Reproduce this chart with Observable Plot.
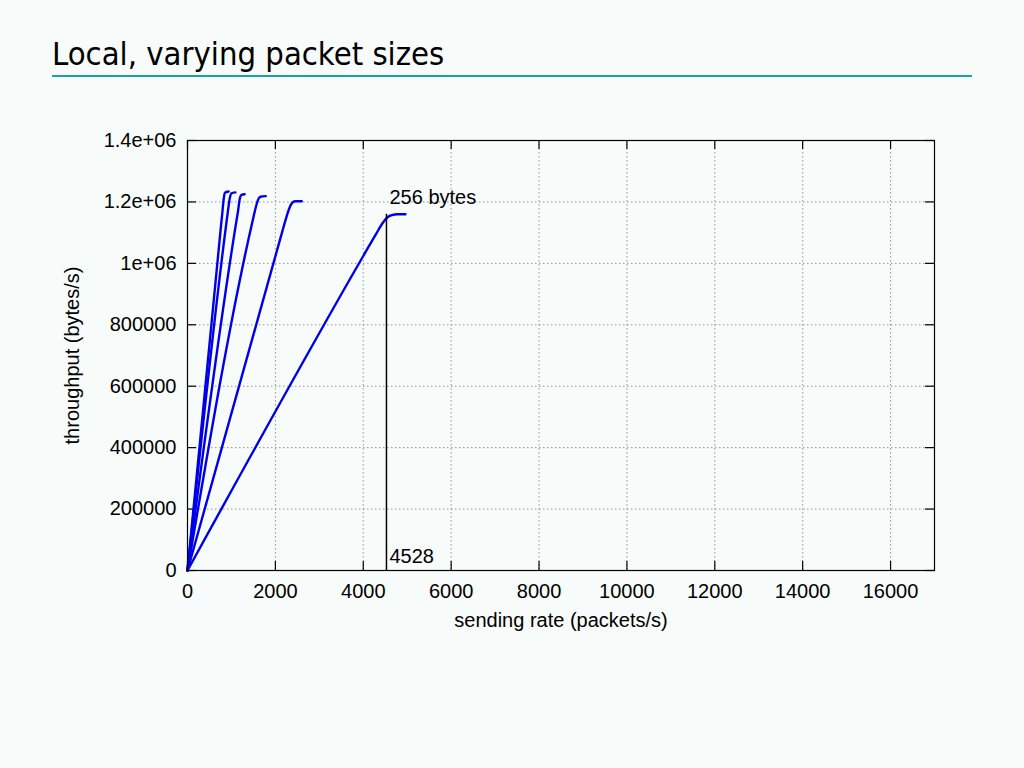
<!DOCTYPE html>
<html>
<head>
<meta charset="utf-8">
<script src="https://cdn.jsdelivr.net/npm/d3@7"></script>
<script src="https://cdn.jsdelivr.net/npm/@observablehq/plot@0.6"></script>
<style>
  html, body { margin: 0; padding: 0; background: #f7fbf9; width: 1024px; height: 768px; overflow: hidden; }
  #title { position: absolute; left: 52px; top: 38px; font-family: "DejaVu Sans Condensed", "DejaVu Sans", sans-serif; font-stretch: condensed; font-size: 32.5px; color: #000; line-height: 1; white-space: nowrap; }
  #rule { position: absolute; left: 52px; top: 75px; width: 920px; height: 2px; background: #1f9fae; }
  #chart { position: absolute; left: 0; top: 0; }
</style>
</head>
<body>
<div id="title">Local, varying packet sizes</div>
<div id="rule"></div>
<div id="chart"></div>
<script>
// ---- data ----
const xLabel = "sending rate (packets/s)";
const yLabel = "throughput (bytes/s)";
const xTicks = [0, 2000, 4000, 6000, 8000, 10000, 12000, 14000, 16000];
const yTicks = [0, 200000, 400000, 600000, 800000, 1000000, 1200000, 1400000];
const yTickLabels = ["0", "200000", "400000", "600000", "800000", "1e+06", "1.2e+06", "1.4e+06"];

const packetSizes = [256, 512, 768, 1024, 1280, 1472];
const rate256  = [0, 4000, 4300, 4450, 4550, 4650, 4780, 4960];
const tput256  = [0, 1024000, 1098000, 1133000, 1150000, 1157000, 1160000, 1160000];
const rate512  = [0, 2150, 2250, 2320, 2390, 2460, 2600];
const tput512  = [0, 1100000, 1150000, 1180000, 1198000, 1202000, 1202000];
const rate768  = [0, 1480, 1550, 1600, 1660, 1780];
const tput768  = [0, 1137000, 1180000, 1205000, 1217000, 1219000];
const rate1024 = [0, 1100, 1150, 1190, 1230, 1300];
const tput1024 = [0, 1126000, 1170000, 1210000, 1223000, 1225000];
const rate1280 = [0, 880, 920, 960, 1000, 1090];
const tput1280 = [0, 1126000, 1170000, 1210000, 1228000, 1231000];
const rate1472 = [0, 760, 790, 820, 850, 935];
const tput1472 = [0, 1119000, 1160000, 1205000, 1230000, 1234000];

const markerRate = 4528;
const markerTput = 1160000;
const markerLabel = "4528";
const markerLabelY = 45000;
const seriesLabel = "256 bytes";
const seriesLabelY = 1213000;

// ---- build table ----
const rates = [rate256, rate512, rate768, rate1024, rate1280, rate1472];
const tputs = [tput256, tput512, tput768, tput1024, tput1280, tput1472];
const rows = [];
packetSizes.forEach((s, k) => rates[k].forEach((r, i) => rows.push({size: s, rate: r, tput: tputs[k][i]})));

const plotW = 1024 - 187 - 90;
const plotH = 660 - 140 - 90;
const tickLen = 9;
const fs = 20;
const font = "'Liberation Sans', Arial, Helvetica, sans-serif";

const chart = Plot.plot({
  width: 1024,
  height: 660,
  marginLeft: 187,
  marginRight: 90,
  marginTop: 140,
  marginBottom: 90,
  style: {background: "transparent", fontSize: fs + "px", fontFamily: font, color: "#000"},
  x: {domain: [0, 17000]},
  y: {domain: [0, 1400000]},
  marks: [
    Plot.gridX(xTicks.slice(1), {stroke: "#7a7a7a", strokeOpacity: 1, strokeDasharray: "1.5,2.5", strokeWidth: 0.8}),
    Plot.gridY(yTicks.slice(1), {stroke: "#7a7a7a", strokeOpacity: 1, strokeDasharray: "1.5,2.5", strokeWidth: 0.8}),
    Plot.tickX(xTicks, {x: d => d, insetTop: plotH - tickLen, stroke: "#000", strokeWidth: 1.2}),
    Plot.tickX(xTicks, {x: d => d, insetBottom: plotH - tickLen, stroke: "#000", strokeWidth: 1.2}),
    Plot.tickY(yTicks, {y: d => d, insetRight: plotW - tickLen, stroke: "#000", strokeWidth: 1.2}),
    Plot.tickY(yTicks, {y: d => d, insetLeft: plotW - tickLen, stroke: "#000", strokeWidth: 1.2}),
    Plot.axisX(xTicks, {tickSize: 0, tickPadding: 13, label: null, fontSize: fs, tickFormat: d => String(d)}),
    Plot.axisY(yTicks, {tickSize: 0, tickPadding: 11, label: null, fontSize: fs, tickFormat: d => yTickLabels[yTicks.indexOf(d)]}),
    Plot.line(rows, {x: "rate", y: "tput", z: "size", stroke: "#0000e8", strokeWidth: 2.4, curve: "monotone-x"}),
    Plot.ruleX([markerRate], {x: d => d, y1: 0, y2: markerTput, stroke: "#000", strokeWidth: 1.5}),
    Plot.text([seriesLabel], {x: markerRate, y: seriesLabelY, text: d => d, textAnchor: "start", dx: 3, fontSize: fs}),
    Plot.text([markerLabel], {x: markerRate, y: markerLabelY, text: d => d, textAnchor: "start", dx: 3, fontSize: fs}),
    Plot.text([yLabel], {frameAnchor: "left", dx: -115, rotate: -90, textAnchor: "middle", text: d => d, fontSize: fs}),
    Plot.text([xLabel], {frameAnchor: "bottom", dy: 56, textAnchor: "middle", text: d => d, fontSize: fs}),
    Plot.frame({stroke: "#000", strokeWidth: 1.2})
  ]
});
document.getElementById("chart").appendChild(chart);
</script>
</body>
</html>
